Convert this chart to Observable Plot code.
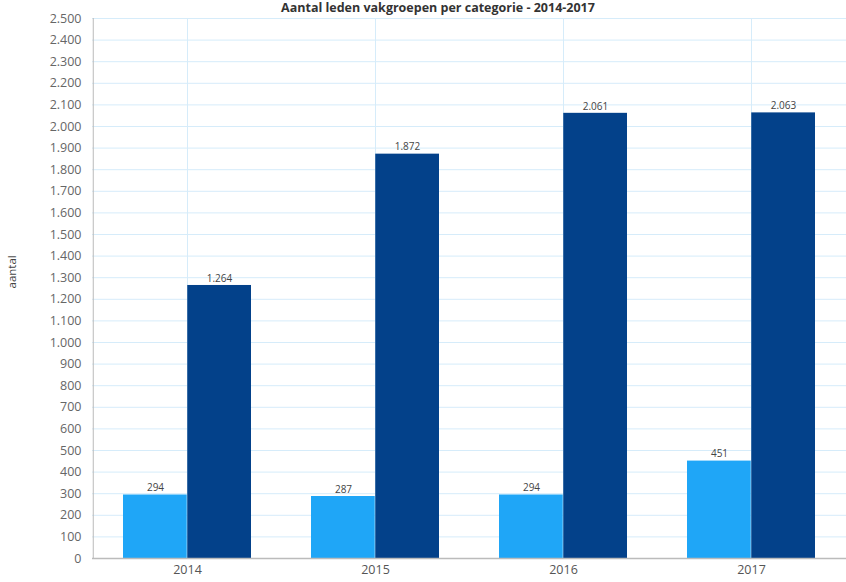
<!DOCTYPE html>
<html>
<head>
<meta charset="utf-8">
<script src="https://cdn.jsdelivr.net/npm/d3@7"></script>
<script src="https://cdn.jsdelivr.net/npm/@observablehq/plot@0.6"></script>
<style>
  body { margin: 0; background: #fff; font-family: "Open Sans", "DejaVu Sans", sans-serif; overflow: hidden; }
  #wrap { position: relative; width: 846px; height: 582px; overflow: hidden; }
  #title { position: absolute; top: 1px; left: 0; width: 876px; text-align: center; font-weight: bold; font-size: 12.5px; line-height: 14px; color: #333; }
  #chart { position: absolute; top: 0; left: 0; }
</style>
</head>
<body>
<div id="wrap">
  <div id="chart"></div>
  <div id="title">Aantal leden vakgroepen per categorie - 2014-2017</div>
</div>
<script>
const years = ["2014", "2015", "2016", "2017"];
const series1 = [294, 287, 294, 451];
const series2 = [1264, 1872, 2061, 2063];
const yTicks = d3.range(0, 2501, 100);

const nl = d3.formatLocale({decimal: ",", thousands: ".", grouping: [3], currency: ["€", ""]});
const fmt = nl.format(",d");

const light = years.map((y, i) => ({year: y, value: series1[i]}));
const dark = years.map((y, i) => ({year: y, value: series2[i]}));

const chart = Plot.plot({
  width: 846,
  height: 582,
  marginLeft: 92,
  marginRight: 0,
  marginTop: 18,
  marginBottom: 24,
  style: {fontFamily: "'Open Sans', 'DejaVu Sans', sans-serif", fontSize: "12px", color: "#555"},
  x: {type: "band", domain: years, padding: 0, label: null, tickSize: 0, tickPadding: 8},
  y: {domain: [0, 2500], ticks: yTicks, tickFormat: fmt, label: null, tickSize: 0, tickPadding: 11},
  marks: [
    Plot.gridY(yTicks, {stroke: "#d6ecfa", strokeOpacity: 1}),
    Plot.gridX(years, {stroke: "#d6ecfa", strokeOpacity: 1}),
    Plot.barY(light, {x: "year", y: "value", fill: "#1fa6f7", insetLeft: 30, insetRight: 94.25}),
    Plot.barY(dark, {x: "year", y: "value", fill: "#03418a", insetLeft: 94.25, insetRight: 30}),
    Plot.text(light, {x: "year", y: "value", text: d => fmt(d.value), dx: -32, dy: -7, fontSize: 10, fill: "#444"}),
    Plot.text(dark, {x: "year", y: "value", text: d => fmt(d.value), dx: 32, dy: -7, fontSize: 10, fill: "#444"}),
    Plot.ruleX([0], {x: () => years[0], dx: -94.25, y1: 0, y2: 2500, stroke: "#bbb"}),
    Plot.ruleY([0], {stroke: "#bbb", strokeWidth: 1.5}),
    Plot.axisY({ticks: yTicks, tickFormat: fmt, tickSize: 0, tickPadding: 11, fontSize: 12.5, fill: "#666", label: null}),
    Plot.axisX({tickSize: 0, tickPadding: 7, fontSize: 12.5, fill: "#555", label: null}),
    Plot.text(["aantal"], {frameAnchor: "left", dx: -80, rotate: -90, fontSize: 11.5, fill: "#444"})
  ]
});
document.getElementById("chart").appendChild(chart);
</script>
</body>
</html>
